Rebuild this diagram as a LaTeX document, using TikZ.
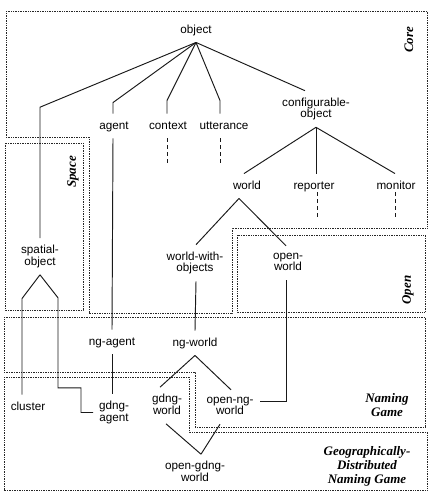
\documentclass[tikz,border=0pt]{standalone}
\usepackage{fontspec}
\setmainfont{Liberation Serif}
\setsansfont{Liberation Sans}
\begin{document}
\begin{tikzpicture}[x=1pt,y=-1pt,
  lab/.style={font=\sffamily\fontsize{11.7}{11.7}\selectfont, align=center,
    inner xsep=1pt, inner ysep=7pt, outer sep=0pt,
    execute at begin node=\vphantom{bj}, execute at end node=\vphantom{bj}},
  group/.style={draw=black!85, line width=0.8pt, dash pattern=on 0.75pt off 0.95pt},
  grouplabel/.style={font=\rmfamily\bfseries\itshape\fontsize{13}{14}\selectfont, align=center, inner sep=0pt},
  link/.style={draw=black!90, line width=0.95pt},
  more/.style={draw=black!90, line width=0.95pt, dash pattern=on 4pt off 3pt}]
\useasboundingbox (0,0) rectangle (430,492);

% package boundaries
\draw[group] (6,11) -- (427,11) -- (427,228) -- (232,228) -- (232,313) -- (89,313) -- (89,137) -- (6,137) -- cycle;
\draw[group] (5,143) rectangle (83,310);
\draw[group] (237,235) rectangle (425,312);
\draw[group] (4,317) -- (425,317) -- (425,427) -- (195,427) -- (195,372) -- (4,372) -- cycle;
\draw[group] (4,377) -- (189,377) -- (189,432) -- (427,432) -- (427,490) -- (4,490) -- cycle;

% package names
\node[grouplabel, rotate=90] (lcore) at (409,40) {Core};
\node[grouplabel, rotate=90] (lspace) at (73,172) {Space};
\node[grouplabel, rotate=90] (lopen) at (408,290) {Open};
\node[grouplabel] (lng) at (387,405) {Naming\\Game};
\node[grouplabel] (lgdng) at (367,466) {Geographically-\\Distributed\\Naming Game};

% classes
\node[lab] (object) at (196,30) {object};
\node[lab] (agent) at (114,126) {agent};
\node[lab] (context) at (168,126) {context};
\node[lab] (utterance) at (224,126) {utterance};
\node[lab] (config) at (316,109) {configurable-\\object};
\node[lab] (world) at (247,186) {world};
\node[lab] (reporter) at (314,186) {reporter};
\node[lab] (monitor) at (396,186) {monitor};
\node[lab] (spatial) at (40,256.5) {spatial-\\object};
\node[lab] (wwo) at (195,263) {world-with-\\objects};
\node[lab] (openworld) at (288,263) {open-\\world};
\node[lab] (ngagent) at (112,342) {ng-agent};
\node[lab] (ngworld) at (195,343) {ng-world};
\node[lab] (cluster) at (28,407) {cluster};
\node[lab] (gdngagent) at (114,412.5) {gdng-\\agent};
\node[lab] (gdngworld) at (167,405.5) {gdng-\\world};
\node[lab] (openngw) at (230,407) {open-ng-\\world};
\node[lab] (opengdng) at (195,472.5) {open-gdng-\\world};

% inheritance links
\draw[link] (object.south) -- ([yshift=131pt]spatial.north) -- (spatial.north);
\draw[link] (object.south) -- ([xshift=-1pt,yshift=11pt]agent.north) -- ([xshift=-1pt]agent.north);
\draw[link] (object.south) -- ([xshift=-1pt,yshift=13pt]context.north) -- ([xshift=-1pt]context.north);
\draw[link] (object.south) -- ([xshift=-4pt,yshift=13pt]utterance.north) -- ([xshift=-4pt]utterance.north);
\draw[link] (object.south) -- ([xshift=-11pt]config.north);
\draw[link] ([xshift=-1pt]agent.south) -- (ngagent.north);
\draw[more] ([xshift=-1pt]context.south) -- ++(0,26);
\draw[more] ([xshift=-4pt]utterance.south) -- ++(0,26);

\draw[link] (config.south) -- ([xshift=-3pt]world.north);
\draw[link] (config.south) -- ([xshift=2pt]reporter.north);
\draw[link] (config.south) -- ([xshift=-1pt]monitor.north);
\draw[more] ([xshift=3pt,yshift=6pt]reporter.south) -- ++(0,27);
\draw[more] ([xshift=-1pt,yshift=6pt]monitor.south) -- ++(0,27);

\draw[link] ([xshift=-8pt]world.south) -- ([xshift=1pt]wwo.north);
\draw[link] ([xshift=-8pt]world.south) -- ([xshift=-2pt]openworld.north);
\draw[link] ([xshift=1pt]wwo.south) -- (ngworld.north);
\draw[link] ([xshift=-2pt]openworld.south) |- ([xshift=6pt,yshift=6pt]openngw.east);

\draw[link] (spatial.south) -- ([xshift=-6pt,yshift=96pt]cluster.north) -- ([xshift=-6pt]cluster.north);
\draw[link] (spatial.south) -- ++(18,23) -- ++(0,90) -- ++(23,0) |- ([xshift=-5pt]gdngagent.west);
\draw[link] (ngagent.south) -- ([xshift=-2pt]gdngagent.north);

\draw[link] (ngworld.south) -- ([xshift=-7pt]gdngworld.north);
\draw[link] (ngworld.south) -- ([xshift=1pt]openngw.north);
\draw[link] ([xshift=-1pt]gdngworld.south) -- ([xshift=6pt]opengdng.north);
\draw[link] ([xshift=-10pt]openngw.south) -- ([xshift=6pt]opengdng.north);
\end{tikzpicture}
\end{document}
